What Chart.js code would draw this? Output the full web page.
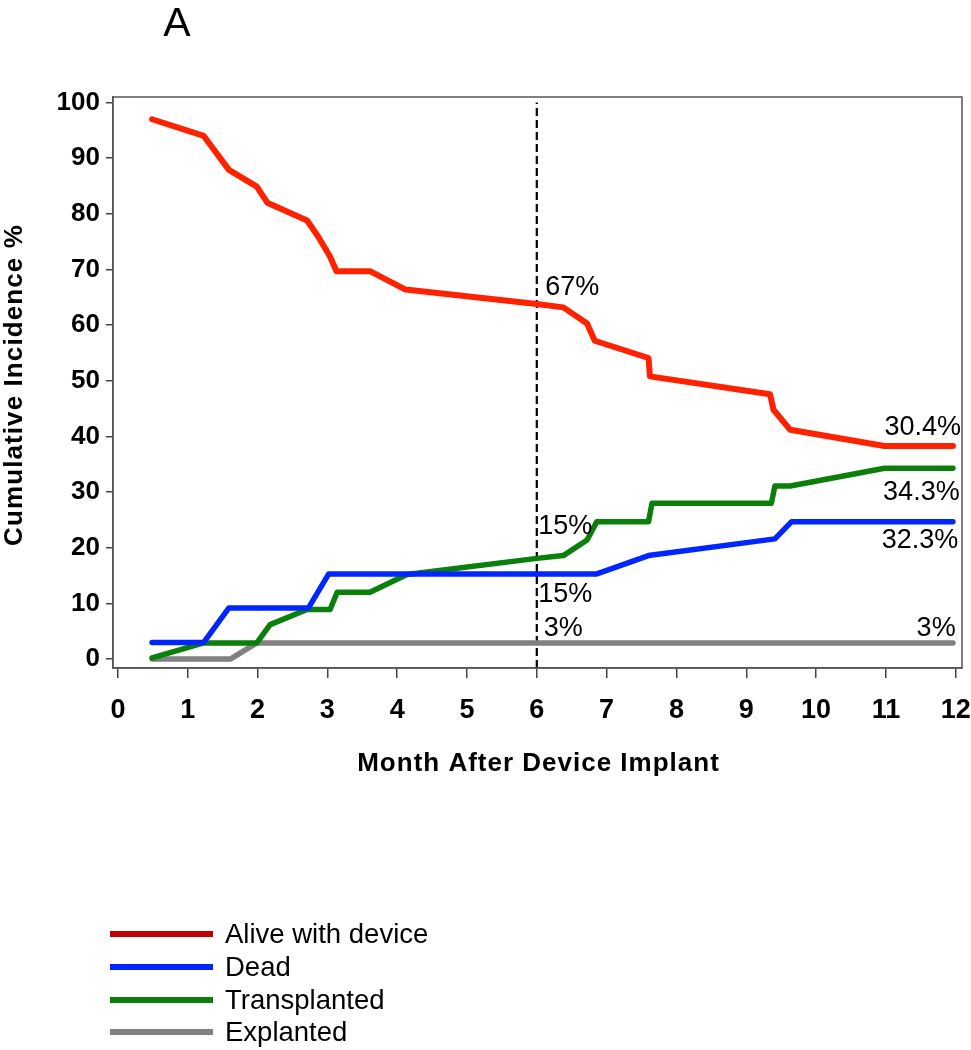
<!DOCTYPE html>
<html>
<head>
<meta charset="utf-8">
<script src="https://cdn.jsdelivr.net/npm/chart.js@4"></script>
<style>
  body { margin: 0; background: #fff; }
  #wrap { position: relative; width: 971px; height: 1050px; }
  #legend { position: absolute; left: 110px; top: 918px; font: 27.5px "Liberation Sans", Arial, sans-serif; color: #000; }
  .row { display: flex; align-items: center; height: 32.7px; }
  .swatch { width: 103px; height: 6px; margin-right: 12px; }
</style>
</head>
<body>
<div id="wrap">
  <canvas id="chart" width="971" height="1050"></canvas>
  <div id="legend"></div>
</div>
<script>
// (months after implant vs %)
const aliveX = [0.49, 1.23, 1.59, 1.99, 2.14, 2.71, 2.87, 3.04, 3.13, 3.61, 4.12, 6.0, 6.38, 6.72, 6.83, 7.6, 7.62, 9.34, 9.39, 9.63, 10.98, 11.96];
const aliveY = [97.0, 94.0, 87.9, 84.9, 82.0, 78.8, 75.9, 72.3, 69.7, 69.7, 66.4, 63.8, 63.2, 60.3, 57.2, 54.1, 50.8, 47.6, 44.8, 41.2, 38.3, 38.3];

const deadX = [0.49, 1.23, 1.59, 2.73, 3.02, 6.86, 7.6, 9.41, 9.65, 11.96];
const deadY = [3.0, 3.0, 9.2, 9.2, 15.3, 15.3, 18.6, 21.6, 24.7, 24.7];

const transX = [0.49, 1.23, 1.99, 2.18, 2.71, 3.04, 3.14, 3.61, 4.14, 6.0, 6.38, 6.72, 6.86, 7.6, 7.65, 9.36, 9.41, 9.63, 10.98, 11.96];
const transY = [0.2, 2.9, 2.9, 6.2, 8.9, 8.9, 12.0, 12.0, 15.2, 18.1, 18.6, 21.4, 24.7, 24.7, 28.0, 28.0, 31.1, 31.1, 34.3, 34.3];

const explX = [0.49, 1.61, 1.99, 11.96];
const explY = [0, 0, 2.9, 2.9];

const markerX = [6, 6];
const markerY = [-1.6, 100];

const xTicks = [0, 1, 2, 3, 4, 5, 6, 7, 8, 9, 10, 11, 12];
const yTicks = [0, 10, 20, 30, 40, 50, 60, 70, 80, 90, 100];

const xTitle = 'Month After Device Implant';
const yTitle = 'Cumulative Incidence %';

const labels = [
  {text: '67%', x: 6.12, y: 65.4},
  {text: '30.4%', x: 10.98, y: 40.3},
  {text: '34.3%', x: 10.96, y: 28.6},
  {text: '32.3%', x: 10.94, y: 20.0},
  {text: '15%', x: 6.02, y: 22.5},
  {text: '15%', x: 6.02, y: 10.3},
  {text: '3%', x: 6.1, y: 4.2},
  {text: '3%', x: 11.44, y: 4.2}
];

const FONT = '"Liberation Sans", Arial, sans-serif';

function pts(xs, ys) {
  return xs.map((x, i) => ({x, y: ys[i]}));
}

function series(label, xs, ys, color, width, legendColor) {
  return {
    label,
    data: pts(xs, ys),
    borderColor: color,
    legendColor: legendColor || color,
    borderWidth: width,
    pointRadius: 0,
    tension: 0,
    borderCapStyle: 'round',
    borderJoinStyle: 'round'
  };
}

const datasets = [
  series('Alive with device', aliveX, aliveY, '#ff2200', 6, '#c00000'),
  series('Dead', deadX, deadY, '#0026ff', 5.5),
  series('Transplanted', transX, transY, '#0a800a', 5.5),
  series('Explanted', explX, explY, '#808080', 5.5),
  {
    label: 'month 6',
    data: pts(markerX, markerY),
    borderColor: '#000',
    borderWidth: 2.2,
    borderDash: [8, 4],
    pointRadius: 0,
    hideInLegend: true
  }
];

// frame, axis titles (spaced out like the original), "A" and the percentage notes
const extras = {
  id: 'extras',
  afterDraw(chart) {
    const {ctx, chartArea: a, scales} = chart;
    ctx.save();
    ctx.strokeStyle = '#555';
    ctx.lineWidth = 1.5;
    ctx.strokeRect(a.left, a.top, a.right - a.left, a.bottom - a.top);

    ctx.fillStyle = '#000';
    ctx.textBaseline = 'alphabetic';
    ctx.textAlign = 'center';

    ctx.font = 'bold 26px ' + FONT;
    ctx.letterSpacing = '1px';
    ctx.fillText(xTitle, (a.left + a.right) / 2 + 1, 771);

    ctx.save();
    ctx.translate(22, 385);
    ctx.rotate(-Math.PI / 2);
    ctx.letterSpacing = '1.1px';
    ctx.fillText(yTitle, 0, 0);
    ctx.restore();

    ctx.letterSpacing = '0px';
    ctx.font = '41px ' + FONT;
    ctx.fillText('A', 177, 36);

    ctx.font = '27px ' + FONT;
    ctx.textAlign = 'left';
    labels.forEach(l => {
      ctx.fillText(l.text, scales.x.getPixelForValue(l.x), scales.y.getPixelForValue(l.y));
    });
    ctx.restore();
  }
};

const chart = new Chart(document.getElementById('chart'), {
  type: 'line',
  data: {datasets},
  options: {
    responsive: false,
    animation: false,
    layout: {padding: {left: 0, top: 97, right: 9, bottom: 282}},
    plugins: {legend: {display: false}, tooltip: {enabled: false}},
    scales: {
      x: {
        type: 'linear',
        min: -0.07,
        max: 12.09,
        afterBuildTicks: s => { s.ticks = xTicks.map(v => ({value: v})); },
        afterFit: s => { s.height = 100; s.paddingLeft = 0; s.paddingRight = 0; },
        grid: {drawOnChartArea: false, tickLength: 10, color: '#444', lineWidth: 1.5},
        border: {color: '#555', width: 1.5},
        ticks: {color: '#000', padding: 16, maxRotation: 0, autoSkip: false, font: {family: FONT, size: 27, weight: 'bold'}}
      },
      y: {
        min: -1.6,
        max: 101,
        afterBuildTicks: s => { s.ticks = yTicks.map(v => ({value: v})); },
        afterFit: s => { s.width = 113; },
        grid: {drawOnChartArea: false, tickLength: 7, color: '#444', lineWidth: 1.5},
        border: {color: '#555', width: 1.5},
        ticks: {color: '#000', padding: 6, autoSkip: false, font: {family: FONT, size: 26, weight: 'bold'}}
      }
    }
  },
  plugins: [extras]
});

// legend below the chart, listed top to bottom
const legend = document.getElementById('legend');
chart.data.datasets.filter(d => !d.hideInLegend).forEach(d => {
  const row = document.createElement('div');
  row.className = 'row';
  const sw = document.createElement('span');
  sw.className = 'swatch';
  sw.style.background = d.legendColor;
  const txt = document.createElement('span');
  txt.textContent = d.label;
  row.appendChild(sw);
  row.appendChild(txt);
  legend.appendChild(row);
});
</script>
</body>
</html>
